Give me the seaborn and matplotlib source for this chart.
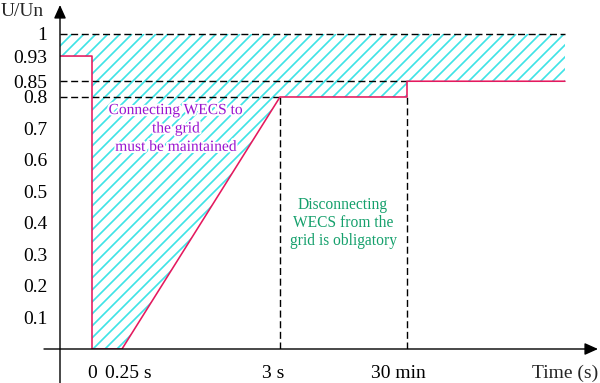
import matplotlib
matplotlib.use("Agg")
import matplotlib.pyplot as plt
import matplotlib.patheffects as pe
import matplotlib.transforms as mtransforms
from matplotlib.collections import LineCollection
import numpy as np
import seaborn as sns
import pandas as pd

# ---- data ----
time_labels = ["0", "0.25 s", "3 s", "30 min"]
time_pos = [0.0, 0.30, 1.88, 3.15]          # schematic positions of the time marks
curve_t = [-0.32, 0.0, 0.0, 0.30, 1.88, 3.15, 3.15, 4.73]
curve_u = [0.93, 0.93, 0.0, 0.0, 0.80, 0.80, 0.85, 0.85]
u_ticks = [0.1, 0.2, 0.3, 0.4, 0.5, 0.6, 0.7, 0.8, 0.85, 0.93, 1.0]
u_tick_labels = ["0.1", "0.2", "0.3", "0.4", "0.5", "0.6", "0.7", "0.8", "0.85", "0.93", "1"]
upper_u = 1.0

DPI = 100
def pt(px):
    return px * 72.0 / DPI

sns.set_theme(style="white")
plt.rcParams["font.family"] = ["Liberation Serif", "DejaVu Serif"]

PINK = "#E5195E"
CYAN = "#3FE3E6"
PURPLE = "#9A14D0"
GREEN = "#15A06C"

W, H = 600, 383
fig = plt.figure(figsize=(W / DPI, H / DPI), dpi=DPI)
ax = fig.add_axes([60 / W, (H - 349) / H, (598 - 60) / W, (349 - 5) / H])
ax.set_xlim(-0.32, 5.06)
ax.set_ylim(0, 1.092)
for s in ax.spines.values():
    s.set_visible(False)

df = pd.DataFrame({"t": curve_t, "u": curve_u})

# region where connection must be maintained (between curve and U/Un = 1)
region = ax.fill_between(df["t"], df["u"], upper_u, facecolor="none",
                         edgecolor="none", linewidth=0, zorder=1)

# diagonal cyan hatching clipped to that region (drawn in pixel space at 45 deg)
fig.canvas.draw()
to_px = ax.transData
to_data = ax.transData.inverted()
(x0p, y0p) = to_px.transform((curve_t[0], 0))
(x1p, y1p) = to_px.transform((curve_t[-1], upper_u))
h = y1p - y0p
segs = []
for c in np.arange(x0p - h - 12, x1p + 12, 12.0):
    a = to_data.transform((c, y0p))
    b = to_data.transform((c + h, y1p))
    segs.append([a, b])
hatch = LineCollection(segs, colors=CYAN, linewidths=pt(1.7), zorder=1)
ax.add_collection(hatch)
clip_poly = region.get_paths()[0]
hatch.set_clip_path(clip_poly, ax.transData)

# dashed reference lines
dash = dict(color="black", lw=pt(1.4), ls=(0, (5, 2.6)), zorder=2)
ax.plot([curve_t[0], curve_t[-1]], [upper_u, upper_u], **dash)
ax.plot([curve_t[0], time_pos[3]], [0.85, 0.85], **dash)
ax.plot([curve_t[0], time_pos[2]], [0.80, 0.80], **dash)
ax.plot([time_pos[2], time_pos[2]], [0, 0.80], **dash)
ax.plot([time_pos[3], time_pos[3]], [0, 0.80], **dash)

# the voltage curve
sns.lineplot(data=df, x="t", y="u", sort=False, estimator=None, color=PINK,
             lw=pt(1.6), ax=ax, zorder=3)

# axes with arrows
arrow = dict(arrowstyle="-|>,head_length=0.8,head_width=0.36", color="black",
             lw=pt(1.4), shrinkA=0, shrinkB=0, mutation_scale=pt(14))
ax.annotate("", xy=(-0.32, 1.092), xytext=(-0.32, -0.108), arrowprops=arrow,
            annotation_clip=False)
ax.annotate("", xy=(5.06, 0), xytext=(-0.48, 0), arrowprops=arrow,
            annotation_clip=False)

FS = pt(19.5)
ax.set_yticks(u_ticks)
ax.set_yticklabels(u_tick_labels)
ax.set_xticks(time_pos)
ax.set_xticklabels(time_labels)
ax.tick_params(axis="y", length=0, pad=pt(12.5), labelsize=FS, colors="black")
ax.tick_params(axis="x", length=0, pad=pt(16), labelsize=FS, colors="black")
ax.set_xlabel("")
ax.set_ylabel("")
# small horizontal nudges of the time labels (pixels), as in the reference
label_shift_px = [0, 6.5, -7, -9]
for lab, dx in zip(ax.get_xticklabels(), label_shift_px):
    lab.set_transform(lab.get_transform() +
                      mtransforms.ScaledTranslation(dx / DPI, 0, fig.dpi_scale_trans))

fig.text(1 / W, 1 - 12 / H, "U/Un", fontsize=FS, ha="left", va="center")
fig.text(598 / W, 1 - 373 / H, "Time (s)", fontsize=FS, ha="right", va="center")

halo = [pe.withStroke(linewidth=pt(4), foreground="white")]
ax.text(0.84, 0.70, "Connecting WECS to\nthe grid\nmust be maintained",
        color=PURPLE, fontsize=pt(15.5), ha="center", va="center", linespacing=1.2,
        zorder=4, path_effects=halo)
ax.text(2.51, 0.40, "Disconnecting\nWECS from the\ngrid is obligatory",
        color=GREEN, fontsize=pt(15.5), ha="center", va="center", linespacing=1.2,
        zorder=4)

fig.savefig("out.png", dpi=DPI)
